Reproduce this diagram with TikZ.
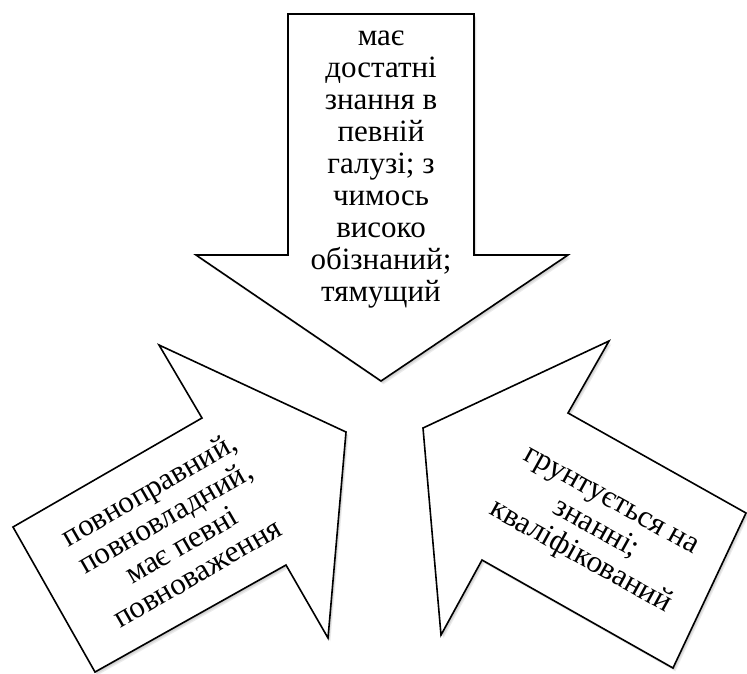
\documentclass[tikz,border=0pt]{standalone}
\usepackage{fontspec}
\setmainfont{Liberation Serif}
\tikzset{
  arrowbox/.style={draw=black, line width=1.6pt, fill=white, line join=miter},
  arrowshadow/.style={fill=black, opacity=0.08, draw=none},
  lbl/.style={inner sep=0pt, anchor=base, text=black},
}
\newcommand\shapeTop[1]{\path[#1] (288,14) -- (474,14) -- (474,255) -- (568,255) -- (381,381) -- (196,255) -- (288,255) -- cycle;}
\newcommand\shapeLeft[1]{\path[#1] (13,527) -- (202,418) -- (159,345) -- (346,432) -- (328,638) -- (286,565) -- (95,672) -- cycle;}
\newcommand\shapeRight[1]{\path[#1] (423,428) -- (609,341) -- (568,413) -- (746,513) -- (673,668) -- (482,560) -- (441,635) -- cycle;}
\newcommand\lblbox[1]{\parbox[t]{320pt}{\centering\fontsize{31}{32.1}\selectfont #1}}
\begin{document}
\begin{tikzpicture}[x=1pt, y=-1pt]
\useasboundingbox (0,0) rectangle (747,673);
\fill[white] (0,0) rectangle (747,673);
% soft shadows of the arrows
\foreach \s in {1,2,3}{
  \shapeTop{arrowshadow, shift={(\s*0.8,\s*1.1)}}
  \shapeLeft{arrowshadow, shift={(\s*0.8,\s*1.1)}}
  \shapeRight{arrowshadow, shift={(\s*0.8,\s*1.1)}}
}
% arrows
\shapeTop{arrowbox}
\shapeLeft{arrowbox}
\shapeRight{arrowbox}
% texts
\node[lbl] (top) at (381,45) {\lblbox{має\\достатні\\знання в\\певній\\галузі; з\\чимось\\високо\\обізнаний;\\тямущий}};
\node[lbl, rotate=30] (left) at (154,498) {\lblbox{повноправний,\\повновладний,\\має певні\\повноваження}};
\node[lbl, rotate=-29] (right) at (608,507) {\lblbox{грунтується на\\знанні;\\кваліфікований}};
\end{tikzpicture}
\end{document}
